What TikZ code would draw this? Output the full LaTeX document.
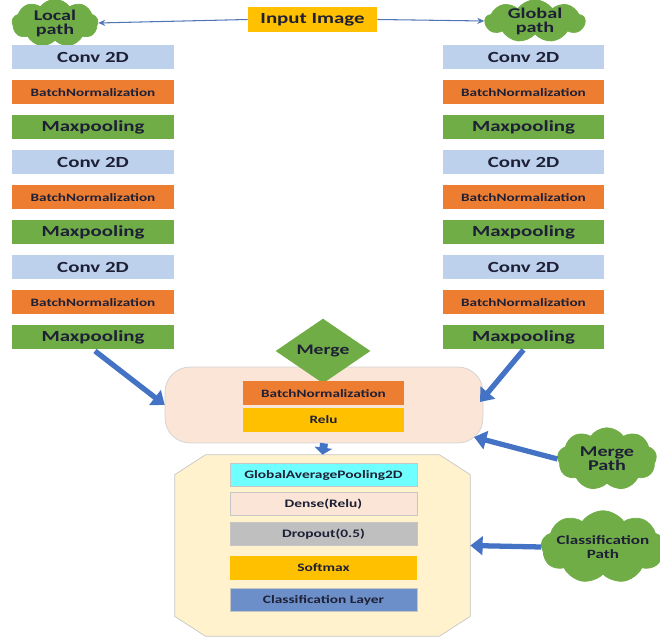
\documentclass[tikz,border=0pt]{standalone}
\usepackage{fontspec}
\setmainfont{Carlito}[FakeStretch=1.35]
\usetikzlibrary{shapes.geometric,shapes.symbols,arrows.meta}
\definecolor{convblue}{HTML}{BDD0EC}
\definecolor{bnorange}{HTML}{ED7D31}
\definecolor{poolgreen}{HTML}{70AD47}
\definecolor{goldbox}{HTML}{FFC000}
\definecolor{peach}{HTML}{FBE5D6}
\definecolor{cream}{HTML}{FFF2CC}
\definecolor{cyanbox}{HTML}{70FFFF}
\definecolor{greybox}{HTML}{BFBFBF}
\definecolor{layerblue}{HTML}{6C8FC9}
\definecolor{arrowblue}{HTML}{4472C4}
\definecolor{inktext}{HTML}{1E2036}
\tikzset{
  layer/.style={minimum width=3.24cm, minimum height=0.48cm, inner sep=0pt,
    text=inktext, font=\bfseries\fontsize{8.8}{9}\selectfont},
  convlayer/.style={layer, fill=convblue},
  bnlayer/.style={layer, fill=bnorange, font=\bfseries\fontsize{6.4}{7}\selectfont},
  poollayer/.style={layer, fill=poolgreen},
  headlayer/.style={layer, minimum width=3.74cm, minimum height=0.47cm,
    draw=gray!45, font=\bfseries\fontsize{6.5}{7}\selectfont},
  pathcloud/.style={cloud, cloud puffs=9, cloud puff arc=110, cloud ignores aspect, fill=poolgreen,
    draw=poolgreen, inner xsep=0pt, inner ysep=-6pt, align=center, text=inktext,
    font=\bfseries\fontsize{8.5}{8}\selectfont},
  fatarrow/.style={arrowblue, line width=3pt, -{Triangle[length=7pt,width=10.5pt]}},
  thinarrow/.style={draw=arrowblue!80!gray, line width=0.6pt, -{Stealth[length=4pt,width=3.5pt]}}
}
\begin{document}
\begin{tikzpicture}[x=0.02cm,y=-0.02cm]
\useasboundingbox (0,0) rectangle (660,638);
% input and the two paths
\node[layer, fill=goldbox, minimum width=2.58cm, minimum height=0.5cm] (input) at (312.5,19.5) {Input Image};
\node[pathcloud, minimum width=1.72cm, minimum height=0.95cm] (local) at (55,23) {Local\\path};
\node[pathcloud, minimum width=2.0cm, minimum height=0.85cm] (global) at (535,21) {Global\\path};
\draw[thinarrow] (input.west) -- (local.east);
\draw[thinarrow] (input.east) -- (global.west);
% the two columns
\foreach \n/\kind/\txt in {1/convlayer/Conv 2D, 2/bnlayer/BatchNormalization, 3/poollayer/Maxpooling,
    4/convlayer/Conv 2D, 5/bnlayer/BatchNormalization, 6/poollayer/Maxpooling,
    7/convlayer/Conv 2D, 8/bnlayer/BatchNormalization, 9/poollayer/Maxpooling} {
  \node[\kind] (L\n) at (93,{22.5+35*\n}) {\txt};
  \node[\kind] (R\n) at (523.5,{22.5+35*\n}) {\txt};
}
% merge
\node[draw=gray!35, fill=peach, rounded corners=0.5cm, minimum width=6.36cm, minimum height=1.52cm] (mbox) at (324,405) {};
\node[diamond, fill=poolgreen, minimum width=1.9cm, minimum height=1.04cm, inner sep=0pt,
  text=inktext, font=\bfseries\fontsize{8.3}{9}\selectfont] (merge) at (323,351) {Merge};
\node[bnlayer] (mbn) at (323.5,393.5) {BatchNormalization};
\node[bnlayer, fill=goldbox] (relu) at (323.5,420) {Relu};
\draw[fatarrow] (95,351) -- (mbox.west);
\draw[fatarrow] (R9.south) -- (480,402);
% classification
\node[minimum width=5.9cm, minimum height=3.62cm] (clsbox) at (322.5,545.5) {};
\draw[draw=gray!45, fill=cream]
  ([xshift=0.62cm]clsbox.north west) -- ([xshift=-0.62cm]clsbox.north east)
  -- ([yshift=-0.4cm]clsbox.north east) -- ([yshift=0.4cm]clsbox.south east)
  -- ([xshift=-0.62cm]clsbox.south east) -- ([xshift=0.62cm]clsbox.south west)
  -- ([yshift=0.4cm]clsbox.south west) -- ([yshift=-0.4cm]clsbox.north west) -- cycle;
\draw[arrowblue, line width=4.5pt, -{Triangle[length=4pt,width=10pt]}] (mbox.south) -- (clsbox.north);
\node[headlayer, fill=cyanbox] (gap) at (323.5,475) {GlobalAveragePooling2D};
\node[headlayer, fill=peach] (dense) at (323.5,504) {Dense(Relu)};
\node[headlayer, fill=greybox] (drop) at (323.5,534) {Dropout(0.5)};
\node[headlayer, fill=goldbox, draw=none] (soft) at (323.5,568) {Softmax};
\node[headlayer, fill=layerblue] (clslayer) at (323.5,600) {Classification Layer};
% the two labels on the right
\node[pathcloud, minimum width=1.98cm, minimum height=1.25cm] (mpath) at (607,459) {Merge\\Path};
\node[pathcloud, minimum width=2.4cm, minimum height=1.45cm,
  font=\bfseries\fontsize{7.2}{8}\selectfont] (cpath) at (603,547) {Classification\\Path};
\draw[fatarrow] (mpath.west) -- (474,437);
\draw[fatarrow] (cpath.west) -- (clsbox.east);
\end{tikzpicture}
\end{document}
